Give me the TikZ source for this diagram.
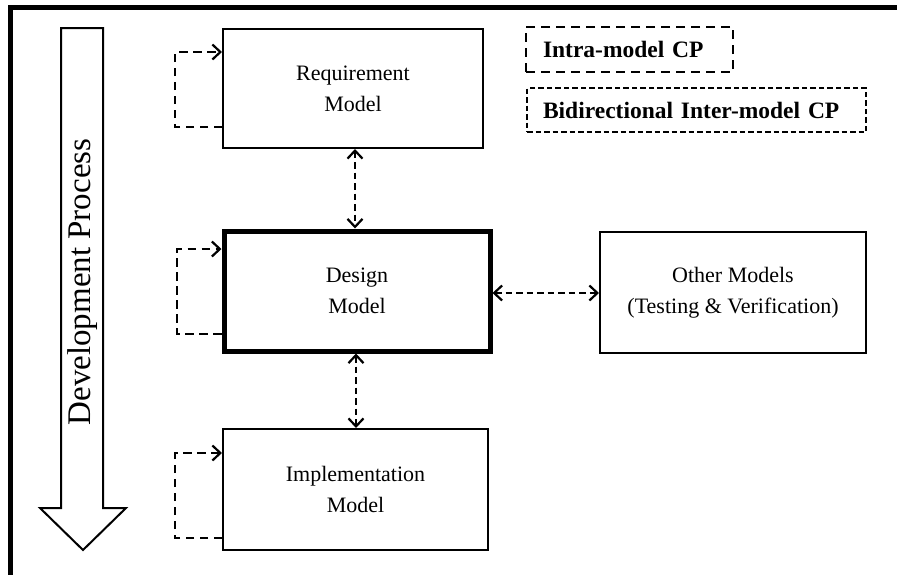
\documentclass[tikz,border=0pt]{standalone}
\usepackage{fontspec}
\setmainfont{Liberation Serif}
\usetikzlibrary{arrows.meta}

\tikzset{
  model/.style={draw, line width=2pt, rectangle, inner sep=0pt, align=center,
    font=\fontsize{22}{31}\selectfont},
  mainmodel/.style={model, line width=5pt},
  legendbox/.style={draw, line width=2.2pt, rectangle, inner ysep=0pt, align=left,
    font=\fontsize{23.5}{27}\selectfont\bfseries},
  barb/.tip={Straight Barb[length=8pt, width=15pt, line width=2.2pt]},
  link/.style={line width=2.2pt, dash pattern=on 6.5pt off 4pt, barb-barb},
  selfloop/.style={line width=2.3pt, dash pattern=on 8.5pt off 5.5pt, -barb},
}

\begin{document}
\begin{tikzpicture}[x=1pt, y=-1pt]
  \useasboundingbox (0,0) rectangle (897,574);
  \fill[white] (0,0) rectangle (897,574);

  % frame (left and top edges)
  \draw[line width=4.5pt] (10.5,590) -- (10.5,7.5) -- (910,7.5);

  % development process arrow
  \draw[line width=2pt, line join=miter, fill=white]
    (61,28) -- (103,28) -- (103,508) -- (126,508) -- (83,550)
    -- (40,508) -- (61,508) -- cycle;
  \node[rotate=90, font=\fontsize{33}{36}\selectfont] (dev) at (83,282) {Development Process};

  % model boxes
  \node[model, minimum width=260pt, minimum height=119pt] (req) at (353,88.5)
    {Requirement\\Model};
  \node[mainmodel, minimum width=266pt, minimum height=120pt] (des) at (357,291)
    {Design\\Model};
  \node[model, minimum width=265pt, minimum height=121pt] (imp) at (355.5,489.5)
    {Implementation\\Model};
  \node[model, minimum width=266pt, minimum height=121pt] (oth) at (733,292.5)
    {Other Models\\(Testing \& Verification)};

  % legend
  \node[legendbox, dash pattern=on 9pt off 6pt, inner xsep=17pt, text width=173pt,
        minimum height=45pt] (lintra) at (629.5,49.5) {Intra-model CP};
  \node[legendbox, dash pattern=on 5.5pt off 3pt, inner xsep=16pt, text width=307pt,
        minimum height=44pt] (linter) at (696.5,110) {Bidirectional Inter-model CP};

  % inter-model connectors
  \draw[link] (req.south -| 355,0) -- (des.north -| 355,0);
  \draw[link] (des.south -| 356,0) -- (imp.north -| 356,0);
  \draw[link] (des.east |- 0,293) -- (oth.west |- 0,293);

  % intra-model loops
  \coordinate (rq1) at (175,127);
  \coordinate (rq2) at (175,52);
  \draw[selfloop] (req.west |- rq1) -- (rq1) -- (rq2) -- (req.west |- rq2);
  \coordinate (ds1) at (177,334);
  \coordinate (ds2) at (177,249);
  \draw[selfloop] (des.west |- ds1) -- (ds1) -- (ds2) -- (des.west |- ds2);
  \coordinate (im1) at (175,538);
  \coordinate (im2) at (175,453);
  \draw[selfloop] (imp.west |- im1) -- (im1) -- (im2) -- (imp.west |- im2);
\end{tikzpicture}
\end{document}
